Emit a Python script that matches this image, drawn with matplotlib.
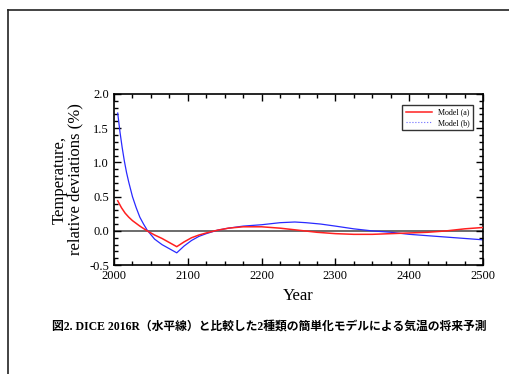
import matplotlib
matplotlib.use('agg')
import matplotlib.pyplot as plt
from matplotlib.lines import Line2D
from matplotlib.ticker import MultipleLocator

serif = ['Liberation Serif', 'Noto Sans CJK JP']
plt.rcParams['font.family'] = serif

# values
years_a = [2005, 2010, 2015, 2020, 2025, 2035, 2045, 2055, 2065, 2075, 2085, 2095, 2105,
           2115, 2125, 2140, 2155, 2175, 2200, 2225, 2250, 2275, 2300, 2325, 2350, 2375,
           2400, 2425, 2450, 2475, 2500]
model_a = [0.44, 0.34, 0.26, 0.20, 0.15, 0.07, 0.0, -0.06, -0.11, -0.17, -0.23, -0.16, -0.10,
           -0.06, -0.03, 0.01, 0.04, 0.06, 0.06, 0.04, 0.01, -0.02, -0.04, -0.05, -0.05, -0.04,
           -0.03, -0.02, 0.0, 0.03, 0.05]

years_b = [2005, 2008, 2011, 2014, 2017, 2020, 2025, 2030, 2035, 2040, 2045, 2055, 2065,
           2075, 2085, 2095, 2105, 2115, 2125, 2140, 2155, 2175, 2200, 2225, 2245, 2260,
           2280, 2300, 2325, 2350, 2375, 2400, 2425, 2450, 2475, 2500]
model_b = [1.72, 1.45, 1.22, 1.02, 0.85, 0.71, 0.50, 0.34, 0.20, 0.10, 0.01, -0.12, -0.20,
           -0.26, -0.32, -0.22, -0.14, -0.08, -0.04, 0.01, 0.04, 0.07, 0.09, 0.12, 0.13, 0.12,
           0.10, 0.07, 0.03, 0.0, -0.02, -0.05, -0.07, -0.09, -0.11, -0.13]

fig = plt.figure(figsize=(5.09, 3.74), dpi=100)

# page border (top and left edge)
fig.add_artist(Line2D([0.015, 1.0], [0.972, 0.972], color='#222222', lw=1.2))
fig.add_artist(Line2D([0.015, 0.015], [0.0, 0.972], color='#222222', lw=1.2))

ax = fig.add_axes([0.224, 0.291, 0.725, 0.458])
ax.axhline(0, color='#444444', lw=1.1, zorder=1)
ax.plot(years_a, model_a, color='#ff2020', lw=1.1, zorder=3)
ax.plot(years_b, model_b, color='#2a2aff', lw=0.9, zorder=2)

ax.set_xlim(2000, 2500)
ax.set_ylim(-0.5, 2.0)
ax.xaxis.set_major_locator(MultipleLocator(100))
ax.xaxis.set_minor_locator(MultipleLocator(25))
ax.yaxis.set_major_locator(MultipleLocator(0.5))
ax.yaxis.set_minor_locator(MultipleLocator(0.1))
ax.yaxis.set_major_formatter(matplotlib.ticker.FormatStrFormatter('%.1f'))
ax.tick_params(which='both', direction='in', top=True, right=True, labelsize=9, width=1)
ax.tick_params(which='major', length=5)
ax.tick_params(which='minor', length=3)
for s in ax.spines.values():
    s.set_linewidth(1.2)

ax.set_xlabel('Year', fontsize=12, labelpad=4)
ax.set_ylabel('Temperature,\nrelative deviations (%)', fontsize=12, linespacing=1.0, labelpad=4)

handles = [Line2D([], [], color='#ff2020', lw=1.1),
           Line2D([], [], color='#6a6aff', lw=0.8, ls=':')]
leg = ax.legend(handles, ['Model (a)', 'Model (b)'], loc='upper right', fontsize=5.8,
                frameon=True, fancybox=False, edgecolor='black', borderpad=0.45,
                labelspacing=0.3, handlelength=3.2, bbox_to_anchor=(0.985, 0.96))
leg.get_frame().set_linewidth(1.0)

fig.text(0.529, 0.128, '図2. DICE 2016R（水平線）と比較した2種類の簡単化モデルによる気温の将来予測',
         ha='center', va='center', fontsize=8.5, fontweight='bold', family=serif)

fig.savefig('out.png', dpi=100)
